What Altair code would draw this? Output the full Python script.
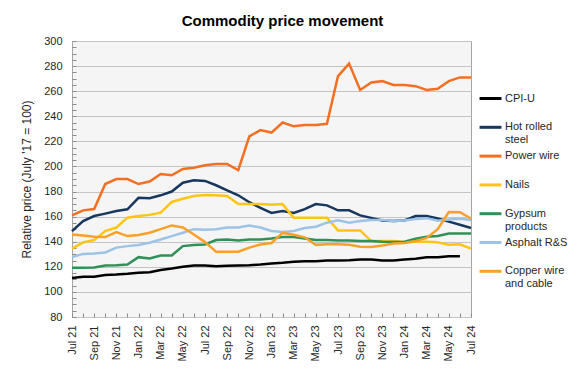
import altair as alt
import pandas as pd

months = ["Jul 21", "Aug 21", "Sep 21", "Oct 21", "Nov 21", "Dec 21",
          "Jan 22", "Feb 22", "Mar 22", "Apr 22", "May 22", "Jun 22",
          "Jul 22", "Aug 22", "Sep 22", "Oct 22", "Nov 22", "Dec 22",
          "Jan 23", "Feb 23", "Mar 23", "Apr 23", "May 23", "Jun 23",
          "Jul 23", "Aug 23", "Sep 23", "Oct 23", "Nov 23", "Dec 23",
          "Jan 24", "Feb 24", "Mar 24", "Apr 24", "May 24", "Jun 24", "Jul 24"]
shown_labels = months[::2]

series_names = ["CPI-U", "Hot rolled steel", "Power wire", "Nails",
                "Gypsum products", "Asphalt R&S", "Copper wire and cable"]
series_colors = ["#000000", "#17375E", "#F36F21", "#FFC514",
                 "#2F9157", "#9DC3E6", "#F7A128"]

cpi_u = [111, 112, 112, 113.5, 113.8, 114.4, 115.2, 115.7, 117.5, 118.6, 120, 121,
         121, 120.5, 120.8, 121, 121.3, 121.8, 122.6, 123.2, 124, 124.5, 124.5, 125,
         125, 125.3, 125.8, 125.8, 125, 125, 125.8, 126.4, 127.7, 127.7, 128.5, 128.5, None]
hot_rolled = [148.5, 156.5, 160.5, 162.4, 164.5, 165.8, 175, 174.6, 177, 180, 187, 189,
              188.5, 185, 181, 177, 171.5, 167, 163, 164.5, 163, 166, 170, 169,
              165, 165, 161, 159, 157, 156.5, 157, 160.5, 160.5, 158.5, 156, 153.5, 151]
power_wire = [161, 165, 166, 186, 190, 190, 186, 188, 194, 193, 198, 199,
              201, 202, 202, 197, 224, 229, 227, 235, 232, 233, 233, 234,
              272, 282, 261, 267, 268, 265, 265, 264, 261, 262, 268, 271, 271]
nails = [134.5, 139.5, 141.3, 148.5, 151.3, 159.2, 160.5, 161.4, 163.2, 171.7, 174.3, 176.5,
         177.3, 177, 176.5, 170, 170, 170, 169.5, 170, 159.2, 159.2, 159.2, 159.2,
         149, 149, 149, 140.5, 140.5, 140.5, 139.7, 140, 140, 139.5, 137.5, 138, 134.5]
gypsum = [119.3, 119.3, 119.5, 121, 121.3, 121.8, 127.7, 126.6, 129, 129, 136.5, 137.4,
          137.8, 141.3, 141.8, 141, 141.8, 141.8, 142.6, 143.7, 143.7, 142.6, 141.3, 141.3,
          141, 141, 140.5, 140.5, 140, 139.7, 140, 142.4, 144, 144.5, 146.5, 146.5, 146.5]
asphalt = [127.7, 130.3, 130.6, 131.4, 135.3, 136.5, 137.4, 139.2, 141.8, 144.5, 147.2, 150,
           149.5, 150, 151.3, 151.3, 153, 151.3, 148.5, 147.7, 148.5, 151, 152, 155.2,
           157, 155.2, 156.5, 157.4, 157.4, 156.5, 157, 158.2, 158.8, 156.8, 157.8, 158.4, 157.4]
copper = [145.8, 145, 144, 143.7, 147.7, 144.5, 145.3, 147.2, 150, 153, 151.3, 145.8,
          139.7, 132, 132, 132, 135.3, 137.8, 139, 147, 145.5, 143.5, 137.5, 138,
          138, 137.5, 136, 135.8, 137, 138.5, 139, 140.5, 143, 150, 163.7, 163.5, 158.5]

y_ticks = list(range(80, 301, 20))
y_minor = list(range(80, 301, 5))

all_series = [cpi_u, hot_rolled, power_wire, nails, gypsum, asphalt, copper]
rows = []
for name, vals in zip(series_names, all_series):
    for m, v in zip(months, vals):
        if v is not None:
            rows.append({"month": m, "series": name, "value": v})
df = pd.DataFrame(rows)

FONT = "Liberation Sans"
label_js = "[" + ",".join("'" + s + "'" for s in shown_labels) + "]"

legend_expr = ("datum.label == 'Hot rolled steel' ? ['Hot rolled', 'steel'] : "
               "datum.label == 'Gypsum products' ? ['Gypsum', 'products'] : "
               "datum.label == 'Copper wire and cable' ? ['Copper wire', 'and cable'] : datum.label")

lines = alt.Chart(df).mark_line(strokeWidth=2.5).encode(
    x=alt.X("month:O", sort=months,
            scale=alt.Scale(type="point", padding=0),
            axis=alt.Axis(title=None, labelAngle=270, domain=False,
                          labelExpr="indexof(" + label_js + ", datum.label) >= 0 ? datum.label : ''",
                          ticks=True, tickSize=4, offset=-4, tickColor="#8C8C8C",
                          labelPadding=8, labelFontSize=11, labelFont=FONT,
                          labelColor="#262626", grid=False)),
    y=alt.Y("value:Q",
            scale=alt.Scale(domain=[80, 300], nice=False, zero=False),
            axis=alt.Axis(values=y_ticks, title="Relative price (July '17 = 100)",
                          ticks=False, domain=False, grid=True, gridColor="#C4C4C4",
                          labelPadding=10, labelFontSize=11, labelFont=FONT,
                          labelColor="#262626", titleFont=FONT, titleFontSize=12,
                          titleFontWeight="normal", titleColor="#262626",
                          titlePadding=10)),
    color=alt.Color("series:N", sort=series_names,
                    scale=alt.Scale(domain=series_names, range=series_colors),
                    legend=alt.Legend(title=None, orient="none", legendX=411.5, legendY=50.5,
                                      symbolType="M-2,0H2", symbolStrokeWidth=3,
                                      symbolSize=120, labelOffset=7.5,
                                      labelFontSize=11, labelFont=FONT,
                                      labelColor="#262626", labelExpr=legend_expr,
                                      gridAlign="all", columns=1, rowPadding=3.8,
                                      labelLimit=200)),
)

minor = alt.Chart(df).mark_point(opacity=0).encode(
    y=alt.Y("value:Q",
            axis=alt.Axis(values=y_minor, orient="left", labels=False, grid=False,
                          domain=False, title=None, tickSize=4, offset=-4,
                          tickColor="#8C8C8C")),
)

chart = alt.layer(lines, minor).resolve_axis(y="independent").properties(
    width=399, height=276,
    autosize=alt.AutoSizeParams(type="none"),
    padding={"left": 64, "top": 33, "right": 100, "bottom": 55},
    title=alt.TitleParams("Commodity price movement", fontSize=15, fontWeight="bold",
                          font=FONT, anchor="middle", frame="group", dx=11,
                          offset=6, color="#000000"),
).configure_view(fill="#F5F5F5", stroke="#A6A6A6", strokeWidth=1)

chart.save("out.html", embed_options={"renderer": "svg", "actions": False})
